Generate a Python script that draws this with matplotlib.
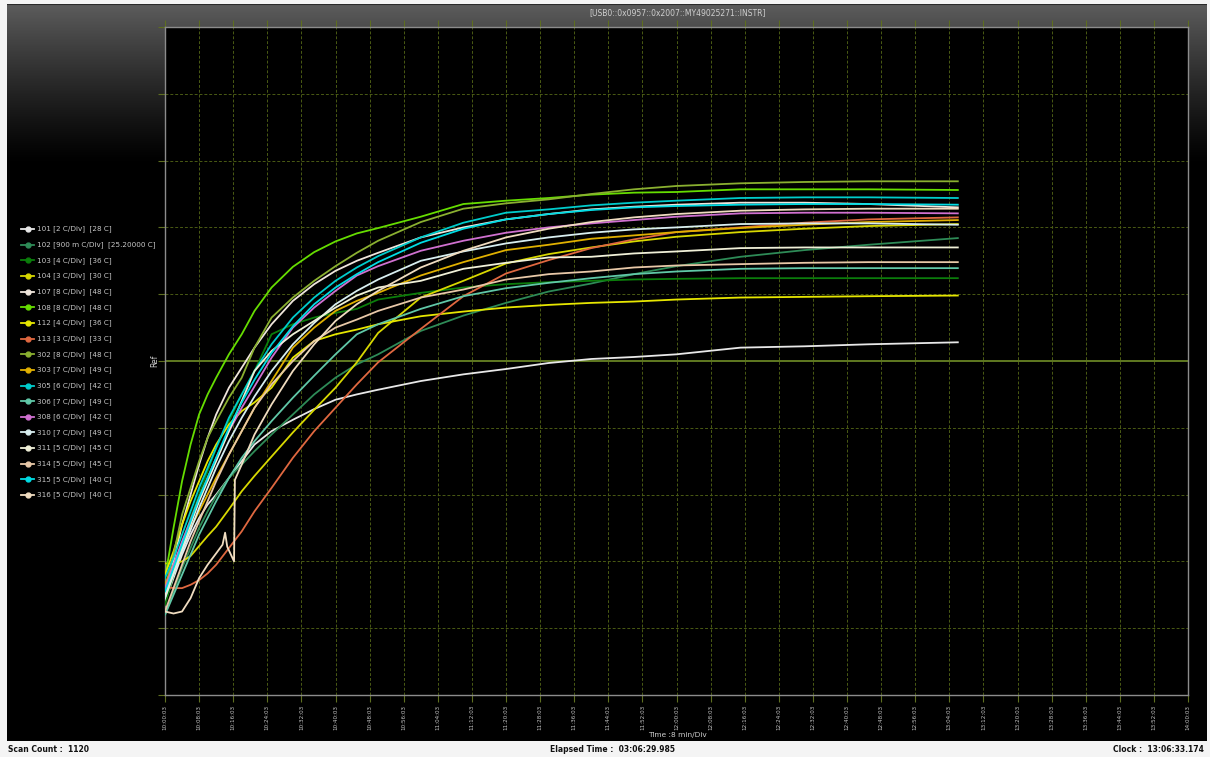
import numpy as np
import matplotlib
matplotlib.use('Agg')
import matplotlib.pyplot as plt
from matplotlib.lines import Line2D
from matplotlib.colors import LinearSegmentedColormap

# ---------------- data ----------------
T = [0, 2, 4, 6, 8, 10, 12, 15, 18, 21, 25, 30, 35, 40, 45, 50, 60, 70, 80, 90,
     100, 110, 120, 135, 150, 165, 186]          # minutes after 10:00:03

ch_ids = ["101", "102", "103", "104", "107", "108", "112", "113", "302", "303",
          "305", "306", "308", "310", "311", "314", "315", "316"]
ch_scale = ["2 C/Div", "900 m C/Div", "4 C/Div", "3 C/Div", "8 C/Div", "8 C/Div",
            "4 C/Div", "3 C/Div", "8 C/Div", "7 C/Div", "6 C/Div", "7 C/Div",
            "6 C/Div", "7 C/Div", "5 C/Div", "5 C/Div", "5 C/Div", "5 C/Div"]
ch_ref = ["28 C", "25.20000 C", "36 C", "30 C", "48 C", "48 C", "36 C", "33 C",
          "48 C", "49 C", "42 C", "49 C", "42 C", "49 C", "45 C", "45 C", "40 C", "40 C"]
ch_colors = ["#e8e8e8", "#2e8b57", "#0b7d0b", "#d8d800", "#f0e6dc", "#66dd00",
             "#e6e600", "#e06840", "#8ab030", "#e0b000", "#00cccc", "#60c8a8",
             "#d070d0", "#d8eef0", "#f0f0d8", "#e8c8a8", "#00dce4", "#f0dcc0"]

v101 = [1.4, 1.75, 2.1, 2.4, 2.65, 2.85, 3.0, 3.25, 3.5, 3.75, 3.95, 4.12, 4.28, 4.42,
        4.5, 4.57, 4.7, 4.8, 4.88, 4.97, 5.03, 5.06, 5.1, 5.2, 5.22, 5.25, 5.28]
v102 = [1.2, 1.55, 1.9, 2.2, 2.5, 2.75, 2.98, 3.25, 3.45, 3.65, 3.9, 4.2, 4.5, 4.75,
        4.95, 5.1, 5.45, 5.68, 5.87, 6.04, 6.16, 6.3, 6.42, 6.56, 6.66, 6.74, 6.84]
v103 = [1.35, 1.8, 2.25, 2.65, 3.0, 3.35, 3.7, 4.1, 4.5, 4.85, 5.4, 5.55, 5.65, 5.72,
        5.78, 5.92, 6.02, 6.1, 6.15, 6.18, 6.2, 6.22, 6.23, 6.24, 6.24, 6.24, 6.24]
v104 = [1.97, 1.97, 2.0, 2.08, 2.23, 2.38, 2.52, 2.78, 3.05, 3.28, 3.57, 3.93, 4.27, 4.6,
        4.98, 5.42, 5.95, 6.2, 6.46, 6.6, 6.7, 6.79, 6.86, 6.93, 6.98, 7.02, 7.05]
v107 = [1.5, 2.0, 2.55, 3.0, 3.45, 3.85, 4.2, 4.6, 4.9, 5.2, 5.55, 5.9, 6.15, 6.35,
        6.5, 6.62, 6.85, 7.0, 7.12, 7.2, 7.27, 7.31, 7.34, 7.37, 7.37, 7.35, 7.3]
v108 = [1.75, 2.5, 3.2, 3.75, 4.2, 4.5, 4.75, 5.1, 5.4, 5.75, 6.1, 6.41, 6.63, 6.79,
        6.91, 6.99, 7.16, 7.35, 7.40, 7.44, 7.49, 7.52, 7.53, 7.57, 7.57, 7.57, 7.56]
v112 = [1.8, 2.15, 2.55, 2.9, 3.2, 3.5, 3.75, 4.05, 4.25, 4.38, 4.6, 5.05, 5.3, 5.4,
        5.47, 5.55, 5.67, 5.74, 5.8, 5.84, 5.87, 5.89, 5.92, 5.95, 5.96, 5.97, 5.98]
v113 = [1.62, 1.6, 1.6, 1.65, 1.72, 1.82, 1.95, 2.2, 2.45, 2.75, 3.1, 3.55, 3.95, 4.3,
        4.65, 4.98, 5.48, 5.97, 6.31, 6.51, 6.69, 6.82, 6.93, 7.0, 7.07, 7.12, 7.15]
v302 = [1.6, 2.1, 2.7, 3.1, 3.5, 3.85, 4.1, 4.45, 4.75, 5.2, 5.65, 5.95, 6.2, 6.42,
        6.62, 6.8, 7.08, 7.28, 7.36, 7.42, 7.50, 7.57, 7.62, 7.66, 7.68, 7.69, 7.69]
v303 = [1.65, 1.95, 2.2, 2.5, 2.75, 3.0, 3.25, 3.6, 3.95, 4.3, 4.7, 5.2, 5.5, 5.75,
        5.9, 6.02, 6.28, 6.48, 6.66, 6.74, 6.83, 6.88, 6.93, 6.99, 7.04, 7.08, 7.11]
v305 = [1.75, 2.05, 2.4, 2.75, 3.1, 3.4, 3.7, 4.15, 4.5, 4.85, 5.25, 5.65, 5.95, 6.2,
        6.4, 6.57, 6.85, 7.07, 7.22, 7.27, 7.33, 7.37, 7.40, 7.44, 7.45, 7.45, 7.44]
v306 = [1.2, 1.5, 1.8, 2.1, 2.4, 2.65, 2.9, 3.25, 3.55, 3.8, 4.1, 4.45, 4.78, 5.1,
        5.4, 5.55, 5.78, 5.97, 6.09, 6.17, 6.24, 6.3, 6.34, 6.38, 6.39, 6.39, 6.39]
v308 = [1.6, 1.95, 2.3, 2.62, 2.95, 3.25, 3.55, 3.95, 4.3, 4.62, 5.05, 5.5, 5.8, 6.05,
        6.28, 6.42, 6.65, 6.8, 6.92, 7.0, 7.06, 7.11, 7.16, 7.21, 7.22, 7.22, 7.21]
v310 = [1.45, 1.8, 2.15, 2.47, 2.8, 3.1, 3.4, 3.8, 4.15, 4.47, 4.85, 5.25, 5.57, 5.85,
        6.05, 6.22, 6.5, 6.64, 6.76, 6.85, 6.92, 6.97, 7.0, 7.05, 7.06, 7.06, 7.04]
v311 = [1.5, 1.85, 2.2, 2.55, 2.9, 3.2, 3.5, 3.95, 4.4, 4.85, 5.15, 5.4, 5.6, 5.8,
        5.98, 6.1, 6.2, 6.38, 6.47, 6.55, 6.56, 6.61, 6.64, 6.69, 6.7, 6.7, 6.7]
v314 = [1.25, 1.6, 1.95, 2.3, 2.6, 2.9, 3.2, 3.6, 3.95, 4.3, 4.65, 5.0, 5.3, 5.5,
        5.62, 5.75, 5.95, 6.07, 6.22, 6.3, 6.34, 6.4, 6.43, 6.45, 6.47, 6.48, 6.48]
v315 = [1.55, 1.9, 2.25, 2.6, 2.95, 3.25, 3.55, 4.0, 4.38, 4.72, 5.12, 5.52, 5.85, 6.1,
        6.3, 6.48, 6.77, 6.98, 7.12, 7.2, 7.26, 7.3, 7.32, 7.34, 7.35, 7.35, 7.34]
T316 = [0, 2, 4, 6, 8, 10, 12, 13.5, 14.1, 14.6, 16.2, 16.4, 18, 21, 25, 30, 35, 40, 45,
        50, 60, 70, 80, 90, 100, 110, 120, 135, 150, 165, 186]
v316 = [1.25, 1.22, 1.25, 1.45, 1.75, 1.95, 2.12, 2.25, 2.43, 2.22, 2.0, 3.22, 3.45, 3.9,
        4.35, 4.85, 5.25, 5.6, 5.85, 6.05, 6.4, 6.65, 6.85, 6.98, 7.08, 7.15, 7.2, 7.25,
        7.27, 7.28, 7.28]

series = [v101, v102, v103, v104, v107, v108, v112, v113, v302, v303,
          v305, v306, v308, v310, v311, v314, v315, v316]
series_t = [T] * 17 + [T316]

x_ticks_min = list(range(0, 241, 8))
x_tick_labels = ["10:00:03", "10:08:03", "10:16:03", "10:24:03", "10:32:03", "10:40:03",
                 "10:48:03", "10:56:03", "11:04:03", "11:12:03", "11:20:03", "11:28:03",
                 "11:36:03", "11:44:03", "11:52:03", "12:00:03", "12:08:03", "12:16:03",
                 "12:24:03", "12:32:03", "12:40:03", "12:48:03", "12:56:03", "13:04:03",
                 "13:12:03", "13:20:03", "13:28:03", "13:36:03", "13:44:03", "13:52:03",
                 "14:00:03"]
ref_level = 5

title_txt = "[USB0::0x0957::0x2007::MY49025271::INSTR]"
xlabel_txt = "Time :8 min/Div"
ylabel_txt = "Ref"
status_left = "Scan Count :  1120"
status_mid = "Elapsed Time :  03:06:29.985"
status_right = "Clock :  13:06:33.174"

# ---------------- figure ----------------
W, H = 1210, 757
fig = plt.figure(figsize=(W / 100, H / 100), dpi=100, facecolor="#f4f4f4")

def fx(px):
    return px / W

def fy(py):
    return 1 - py / H

# window background with gradient
bg = fig.add_axes([fx(7), fy(741), fx(1207) - fx(7), fy(4) - fy(741)])
bg.set_axis_off()
rows = np.arange(737)
col = np.clip(1 - rows / 160.0, 0, 1) ** 1.2
grad = np.stack([col, col], axis=1)
cmap = LinearSegmentedColormap.from_list("g", ["#000000", "#5c5c5c"])
bg.imshow(grad, aspect="auto", cmap=cmap, extent=[0, 1, 0, 1], origin="upper", vmin=0, vmax=1)
bg.set_xlim(0, 1)
bg.set_ylim(0, 1)
bg.add_line(Line2D([0, 1], [1, 1], color="#2a2a2a", lw=1.5, transform=bg.transAxes))

ax = fig.add_axes([fx(165), fy(695), fx(1188) - fx(165), fy(27) - fy(695)])
ax.set_facecolor("black")
ax.set_xlim(0, 240)
ax.set_ylim(0, 10)

for sp in ax.spines.values():
    sp.set_color("#8c8c8c")
    sp.set_linewidth(1.0)

ax.set_xticks(x_ticks_min)
ax.set_xticklabels(x_tick_labels, rotation=90, fontsize=4.1, color="#c4c4c4",
                   va="top", ha="center")
ax.set_yticks(range(0, 11))
ax.set_yticklabels([])
ax.tick_params(axis="both", direction="out", length=5, width=0.8, color="#5e6e20",
               top=True, pad=2)

grid_col = "#4a5a14"
for xt in x_ticks_min[1:-1]:
    ax.axvline(xt, color=grid_col, lw=0.7, ls=(0, (3, 2)), zorder=1)
for yt in range(1, 10):
    if yt == ref_level:
        ax.axhline(yt, color="#7a9a2a", lw=1.1, zorder=1)
    else:
        ax.axhline(yt, color=grid_col, lw=0.7, ls=(0, (3, 2)), zorder=1)

for i, (tt, vv) in enumerate(zip(series_t, series)):
    ax.plot(tt, vv, color=ch_colors[i], lw=1.3, zorder=3 + i * 0.01,
            solid_joinstyle="round")

# labels
fig.text(fx(678), fy(13), title_txt, fontsize=5.5, color="#cfcfcf", ha="center", va="center")
fig.text(fx(677), fy(735.5), xlabel_txt, fontsize=5.3, color="#cfcfcf", ha="center", va="center")
fig.text(fx(155), fy(361), ylabel_txt, fontsize=5.5, color="#cfcfcf", ha="center",
         va="center", rotation=90)

# legend (manual, left panel)
y0, dy = 229, 15.65
for i in range(len(ch_ids)):
    yy = fy(y0 + i * dy)
    fig.add_artist(Line2D([fx(21), fx(34)], [yy, yy], color=ch_colors[i], lw=1.3,
                          transform=fig.transFigure))
    fig.add_artist(Line2D([fx(27.5)], [yy], color=ch_colors[i], marker="o",
                          markersize=3.5, transform=fig.transFigure))
    fig.text(fx(37), yy, f"{ch_ids[i]} [{ch_scale[i]}]  [{ch_ref[i]}]",
             fontsize=5.2, color="#c8c8c8", ha="left", va="center")

# status bar
fig.text(fx(8), fy(749), status_left, fontsize=5.5, color="#111111", ha="left",
         va="center", fontweight="bold")
fig.text(fx(612), fy(749), status_mid, fontsize=5.5, color="#111111", ha="center",
         va="center", fontweight="bold")
fig.text(fx(1204), fy(749), status_right, fontsize=5.5, color="#111111", ha="right",
         va="center", fontweight="bold")

fig.savefig("out.png", dpi=100, facecolor=fig.get_facecolor())
